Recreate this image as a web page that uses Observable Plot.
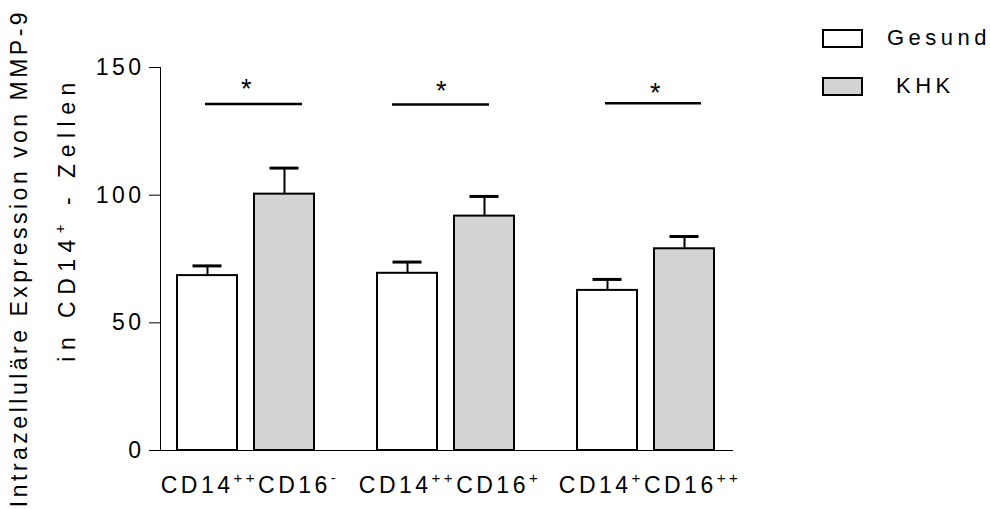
<!DOCTYPE html>
<html>
<head>
<meta charset="utf-8">
<script src="https://cdn.jsdelivr.net/npm/d3@7"></script>
<script src="https://cdn.jsdelivr.net/npm/@observablehq/plot@0.6"></script>
<style>
  body { margin: 0; background: #fff; }
  #chart { position: relative; width: 990px; height: 509px; font-family: "Liberation Sans", Arial, Helvetica, sans-serif; color: #000; }
  #chart svg { display: block; }
  #chart svg text { letter-spacing: 3.5px; }
  #chart svg text.title2 { letter-spacing: 6.5px; }
  .legend-item { position: absolute; left: 822px; height: 20px; }
  .legend-box { position: absolute; left: 0; top: 0; width: 41px; height: 19px; box-sizing: border-box; border: 2px solid #000; }
  .legend-label { position: absolute; top: -4px; font-size: 22px; letter-spacing: 4.5px; white-space: pre; line-height: 26px; }
</style>
</head>
<body>
<div id="chart"></div>
<script>
// Monocyte subsets on the x axis
const groups = ["CD14++CD16-", "CD14++CD16+", "CD14+CD16++"];
const series = ["Gesund", "KHK"];
const seriesFill = ["#ffffff", "#d3d3d3"];

// Mean and mean + SEM per subset
const gesundMean = [68.5, 69.4, 62.7];
const gesundUpper = [72.3, 73.8, 67.0];
const khkMean = [100.4, 91.8, 79.0];
const khkUpper = [110.6, 99.5, 83.8];

// Significance brackets (line level and star level)
const sigLine = [135.7, 135.5, 136.0];
const sigStar = [142.5, 142.0, 141.0];
const sigText = ["*", "*", "*"];

const yTicks = [0, 50, 100, 150];
const yTitle1 = "Intrazelluläre Expression von MMP-9";
const yTitle2 = ["in CD14", "+", " - Zellen"];

const rows = (means, uppers, s) => groups.map((g, i) => ({group: g, series: s, mean: means[i], upper: uppers[i]}));
const gesund = rows(gesundMean, gesundUpper, series[0]);
const khk = rows(khkMean, khkUpper, series[1]);
const sig = groups.map((g, i) => ({group: g, line: sigLine[i], star: sigStar[i], text: sigText[i]}));

const half = 38.5; // offset of each bar's centre from the group centre
// horizontal placement of each bracket within its group band
const bracketStyle = [
  {insetLeft: 28, insetRight: 12, starDx: 2},
  {insetLeft: 15, insetRight: 25, starDx: -3},
  {insetLeft: 28, insetRight: 13, starDx: 11}
];

const bracketMarks = sig.flatMap((d, i) => [
  Plot.tickY([d], {x: "group", y: "line", insetLeft: bracketStyle[i].insetLeft, insetRight: bracketStyle[i].insetRight, stroke: "#000", strokeWidth: 2.5}),
  Plot.text([d], {x: "group", y: "star", text: "text", fontSize: 27, fill: "#000", dx: bracketStyle[i].starDx, dy: 3})
]);

const plot = Plot.plot({
  width: 990,
  height: 509,
  marginLeft: 160,
  marginRight: 258,
  marginTop: 67,
  marginBottom: 59,
  style: {fontFamily: '"Liberation Sans", Arial, Helvetica, sans-serif', fontSize: "23px", color: "#000", background: "transparent", overflow: "visible"},
  x: {domain: groups, paddingInner: 0.313, paddingOuter: 0.08, label: null, tickSize: 0, tickPadding: 26, line: true},
  y: {domain: [0, 150], ticks: yTicks, tickSize: 11, tickPadding: 5, label: null, line: true},
  marks: [
    Plot.barY(gesund, {x: "group", y: "mean", fill: seriesFill[0], stroke: "#000", strokeWidth: 2, insetRight: 77}),
    Plot.barY(khk, {x: "group", y: "mean", fill: seriesFill[1], stroke: "#000", strokeWidth: 2, insetLeft: 77}),
    Plot.ruleX(gesund, {x: "group", y1: "mean", y2: "upper", dx: -half, stroke: "#000", strokeWidth: 2}),
    Plot.ruleX(khk, {x: "group", y1: "mean", y2: "upper", dx: half, stroke: "#000", strokeWidth: 2}),
    Plot.tickY(gesund, {x: "group", y: "upper", dx: -half, insetLeft: 54, insetRight: 54, stroke: "#000", strokeWidth: 3}),
    Plot.tickY(khk, {x: "group", y: "upper", dx: half, insetLeft: 54, insetRight: 54, stroke: "#000", strokeWidth: 3}),
    ...bracketMarks
  ]
});

const chart = document.getElementById("chart");
chart.appendChild(plot);

const svg = d3.select(plot.tagName.toLowerCase() === "svg" ? plot : plot.querySelector("svg"));

// Superscripts in the subset labels
svg.selectAll("text").each(function () {
  const t = this.textContent;
  if (!groups.includes(t)) return;
  const sel = d3.select(this).text(null);
  let raised = false;
  for (const [, base, sup] of t.matchAll(/(CD\d+)([+\-]+)/g)) {
    sel.append("tspan").attr("dy", raised ? 10 : null).text(base);
    sel.append("tspan").attr("dy", -10).attr("font-size", 15).text(sup);
    raised = true;
  }
  d3.select(this).attr("dx", 4);
});

// Two-line y-axis title
const title = svg.append("g").attr("fill", "#000").attr("font-size", 23).attr("text-anchor", "middle");
title.append("text").attr("transform", "translate(27,258) rotate(-90)").text(yTitle1);
const t2 = title.append("text").attr("class", "title2").attr("transform", "translate(75,219) rotate(-90)");
t2.append("tspan").text(yTitle2[0]);
t2.append("tspan").attr("dy", -10).attr("font-size", 15).text(yTitle2[1]);
t2.append("tspan").attr("dy", 10).text(yTitle2[2]);

// Legend
const legend = d3.select(chart);
const legendTop = [29, 77];
const legendTextLeft = [65, 74];
series.forEach((s, i) => {
  const item = legend.append("div").attr("class", "legend-item").style("top", legendTop[i] + "px");
  item.append("div").attr("class", "legend-box").style("background", seriesFill[i]);
  item.append("div").attr("class", "legend-label").style("left", legendTextLeft[i] + "px").text(s);
});
</script>
</body>
</html>
